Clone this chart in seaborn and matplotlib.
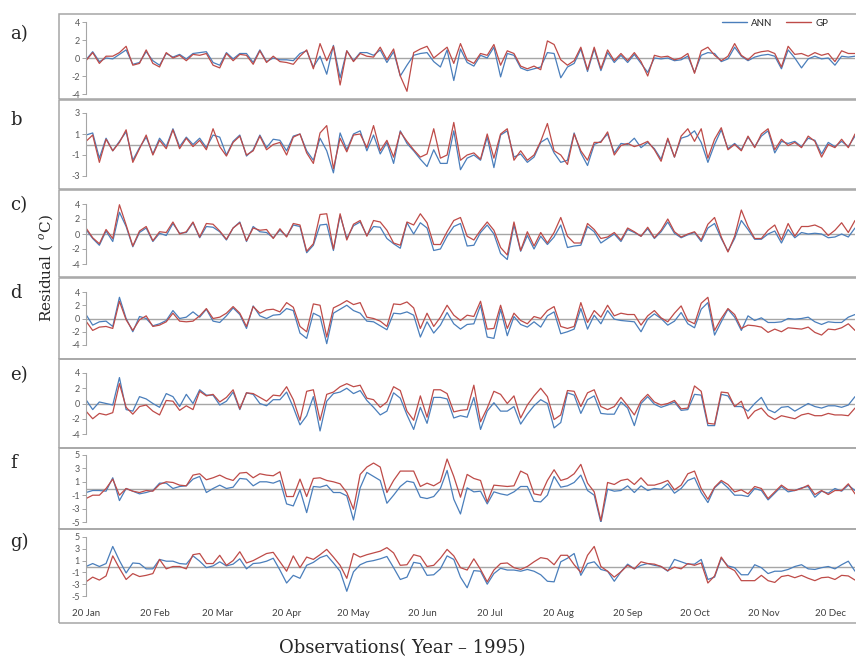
import matplotlib
matplotlib.use("Agg")
import numpy as np
import pandas as pd
import seaborn as sns
import matplotlib.pyplot as plt
from matplotlib.patches import Rectangle
from matplotlib.lines import Line2D

# ---------------- data (3-day samples, 20 Jan .. 31 Dec 1995) ----------------
a_ann = [-0.2,0.7,-0.4,0.0,-0.1,0.4,0.9,-0.7,-0.5,0.7,
         -0.3,-0.8,0.5,0.1,0.4,-0.1,0.5,0.6,0.7,-0.5,
         -0.8,0.6,-0.1,0.5,0.5,-0.5,0.9,-0.4,0.0,-0.2,
         -0.2,-0.3,0.5,0.8,-1.0,0.2,-1.8,1.4,-2.2,0.8,
         -0.3,0.6,0.6,0.3,0.9,-0.5,0.7,-2.0,-0.8,0.3,
         0.5,0.6,-0.4,-1.0,
         0.9,-2.5,1.0,-0.5,-0.9,0.3,0.0,1.2,-2.1,0.5,
         0.3,-1.1,-1.4,-1.2,-1.0,0.6,0.5,-2.2,-1.0,-0.6,
         1.0,-1.5,1.0,-1.4,0.6,-0.5,0.3,-0.5,0.4,-0.6,
         -1.6,0.0,-0.1,0.0,-0.3,-0.2,0.2,-1.6,0.3,0.6,
         0.5,-0.4,-0.1,1.2,0.2,-0.3,0.1,0.3,0.4,0.2,
         -1.2,0.9,0.0,-1.1,-0.1,0.2,-0.1,0.0,-0.8,0.2,
         0.1,0.2]
a_gp = [-0.3,0.6,-0.6,0.2,0.2,0.6,1.3,-0.8,-0.6,0.9,
        -0.6,-1.0,0.6,0.0,0.3,-0.3,0.4,0.3,0.5,-0.8,
        -1.1,0.5,-0.3,0.4,0.3,-0.7,0.8,-0.5,0.2,-0.4,
        -0.5,-0.7,0.2,0.9,-1.2,1.6,-0.3,1.3,-3.0,0.8,
        -0.4,0.5,0.2,0.1,1.2,-0.2,1.0,-2.0,-3.7,0.6,
        1.0,1.3,0.0,0.6,
        1.2,-0.6,1.6,-0.2,-0.6,0.5,0.3,1.5,-0.8,0.8,
        0.5,-0.9,-1.2,-0.9,-1.3,1.9,1.5,-0.2,-0.8,-0.3,
        1.2,-1.3,1.2,-1.2,0.9,-0.3,0.5,-0.3,0.6,-0.4,
        -2.0,0.3,0.1,0.2,-0.2,0.0,0.5,-1.7,0.8,1.2,
        0.3,-0.3,0.2,1.6,0.3,-0.2,0.5,0.7,0.8,0.5,
        -1.0,1.3,0.4,0.5,0.2,0.6,0.3,0.5,-0.4,0.8,
        0.5,0.5]

b_ann = [0.9,1.1,-1.3,0.6,-0.6,0.3,1.2,-1.5,-0.3,0.7,
         -0.9,0.6,-0.2,1.5,-0.2,0.7,0.0,0.6,-0.3,0.9,
         0.7,-1.0,0.3,0.9,-1.1,-0.5,0.9,-0.3,0.5,0.4,
         -0.6,0.8,1.0,-0.6,-1.5,0.6,-0.6,-2.7,1.1,-0.5,
         1.0,1.3,-0.6,0.9,-0.9,0.2,-1.8,1.3,0.1,-0.6,
         -1.4,-2.1,-0.5,-1.8,
         -1.8,1.3,-2.4,-1.3,-1.0,-1.5,0.7,-2.2,0.9,1.3,
         -1.2,-0.9,-1.7,-1.2,0.2,0.6,-0.8,-1.7,-1.5,1.1,
         -0.8,-2.0,0.0,0.3,1.0,-0.8,0.1,0.0,0.6,-0.3,
         0.2,-0.4,-1.4,0.5,-1.2,0.6,0.8,1.3,0.2,-1.7,
         0.0,1.4,-0.4,0.1,-0.5,0.7,-0.2,0.8,1.3,-0.8,
         0.3,0.1,0.3,-0.2,0.6,0.4,-0.9,0.2,-0.2,0.3,
         -0.2,0.8]
b_gp = [0.3,0.9,-1.7,0.5,-0.6,0.2,1.4,-1.7,-0.4,0.9,
        -1.0,0.4,-0.4,1.4,-0.4,0.6,-0.2,0.4,-0.5,1.5,
        -0.2,-1.1,0.2,0.8,-1.0,-0.6,0.8,-0.5,0.0,0.2,
        -1.0,0.7,1.0,-0.8,-1.8,1.1,1.8,-2.3,0.6,-0.7,
        0.9,1.0,-0.3,1.8,-0.6,0.4,-1.2,1.2,0.3,-0.5,
        -1.2,-0.9,1.5,-1.3,
        -1.0,2.1,-1.5,-1.0,-0.8,-1.4,1.0,-1.3,1.0,1.5,
        -1.5,-0.6,-1.5,-1.0,0.3,2.0,-0.6,-1.0,-1.9,1.0,
        -0.6,-1.5,0.2,0.2,1.2,-1.0,-0.1,0.1,-0.2,0.0,
        0.3,-0.5,-1.6,0.6,-1.2,0.8,1.5,0.3,1.5,-1.3,
        0.5,1.6,-0.5,0.0,-0.6,0.8,-0.3,1.0,1.5,-0.5,
        0.5,-0.1,0.2,-0.3,0.8,0.3,-1.2,0.0,-0.3,0.5,
        -0.3,1.0]

c_ann = [0.6,-0.6,-1.5,0.4,-1.0,2.9,1.0,-1.7,0.2,0.8,
         -1.0,0.1,-0.2,1.4,0.1,0.2,1.5,-0.5,1.0,0.9,
         0.3,-0.8,0.8,1.6,-1.0,1.0,0.3,0.2,-0.5,0.5,
         -0.3,1.2,1.0,-2.5,-1.5,1.2,1.3,-2.2,2.5,-0.6,
         1.1,1.6,-0.2,1.0,0.9,-0.6,-1.3,-1.9,1.5,0.0,
         1.5,0.8,-2.2,-2.0,
         -0.3,1.0,1.4,-1.6,-1.5,0.2,1.2,0.0,-2.6,-3.4,
         1.2,-2.3,-0.2,-2.0,-0.3,-1.4,-0.4,1.2,-1.8,-1.6,
         -1.5,1.0,0.3,-1.2,-0.6,0.0,-1.0,0.6,0.2,-0.3,
         0.7,-0.6,0.3,1.6,0.1,-0.5,-0.1,0.2,-1.0,0.8,
         1.4,-0.6,-2.3,-0.6,1.8,0.6,-0.7,-0.7,0.0,0.4,
         -1.2,0.6,-0.5,0.2,0.0,0.1,0.0,-0.5,-0.4,0.0,
         -0.4,0.8]
c_gp = [0.8,-0.5,-1.3,0.6,-0.6,3.9,1.2,-1.6,0.4,1.0,
        -0.9,0.3,0.2,1.6,0.0,0.3,1.6,-0.4,1.4,1.3,
        0.4,-0.7,0.8,1.5,-0.9,0.8,0.5,0.6,-0.6,0.7,
        -0.4,1.4,1.2,-2.3,-1.3,2.6,2.7,-2.0,2.7,-0.8,
        1.3,1.8,-0.3,1.8,1.6,0.5,-1.2,-1.5,1.6,1.2,
        2.7,1.5,-1.4,-1.4,
        0.3,1.8,2.2,-0.3,-0.8,0.5,1.6,0.5,-1.8,-2.8,
        1.6,-2.2,0.3,-1.6,0.2,-1.2,0.2,2.2,-0.3,-1.2,
        -1.2,1.4,0.6,-0.6,-0.4,0.2,-0.8,0.8,0.3,-0.3,
        0.9,-0.5,0.5,2.0,0.3,-0.4,0.0,0.3,-0.8,1.3,
        2.2,-0.4,-2.4,-0.3,3.2,1.0,-0.6,-0.6,0.5,1.2,
        -0.8,1.4,-0.3,1.0,1.0,1.2,0.8,-0.2,0.5,1.5,
        0.2,1.8]

d_ann = [0.6,-1.0,-0.5,-0.4,-1.2,3.2,0.0,-2.0,0.3,0.0,
         -1.1,-0.8,-0.3,1.2,0.0,0.2,1.0,0.2,1.4,-0.4,
         -0.6,0.4,1.6,0.6,-1.5,1.9,0.4,0.0,0.5,0.6,
         1.5,1.2,-2.2,-3.0,0.8,0.3,-3.8,0.8,1.4,2.0,
         1.2,0.8,-0.4,-0.5,-1.1,-1.7,0.8,0.7,1.0,0.5,
         -2.8,-0.5,-2.2,-1.0,
         0.9,-0.8,-1.6,-0.9,-0.8,2.0,-2.8,-3.0,1.4,-2.6,
         0.3,-0.9,-1.3,-0.5,-1.3,0.4,1.0,-2.3,-2.0,-1.6,
         1.5,-1.6,0.5,-0.8,1.2,-0.1,-0.3,-0.4,-0.5,-2.0,
         -0.1,0.7,0.0,-1.0,-0.4,0.9,-0.8,-1.4,1.4,2.4,
         -2.5,-0.5,1.4,0.2,-1.8,0.4,-0.3,0.1,-0.6,-0.6,
         -0.5,0.0,-0.1,0.0,0.2,-0.5,-0.9,-0.5,-0.6,-0.6,
         0.2,0.6]
d_gp = [-0.4,-1.8,-1.3,-1.2,-1.5,2.6,-0.2,-1.8,-0.2,0.4,
        -1.2,-1.0,-0.5,0.8,-0.4,-0.5,-0.4,0.4,1.5,0.0,
        0.2,0.8,1.8,0.8,-1.2,1.8,0.8,1.3,1.4,1.0,
        2.4,1.7,-1.2,-2.0,2.2,2.0,-2.8,1.6,2.1,2.7,
        2.1,2.4,0.2,0.0,-0.4,-1.2,2.2,2.1,2.5,1.6,
        -1.5,0.8,-1.2,0.2,
        2.0,0.5,-0.3,0.5,0.3,2.6,-1.6,-1.5,2.0,-1.5,
        0.8,-0.3,-0.8,0.3,0.0,1.2,1.8,-1.2,-1.5,-1.2,
        2.4,-0.6,1.2,0.2,2.0,0.4,0.8,0.6,0.6,-1.0,
        0.4,1.2,0.1,-0.5,0.8,1.9,-0.3,-0.8,2.3,3.2,
        -1.8,0.0,1.5,0.6,-1.5,-1.0,-1.1,-1.3,-2.1,-1.6,
        -2.0,-1.4,-1.5,-1.6,-1.3,-2.1,-2.5,-1.6,-1.7,-1.4,
        -0.8,-1.8]

e_ann = [0.5,-0.8,0.2,0.0,-0.2,3.4,-0.8,-1.0,0.9,0.6,
         0.0,-0.5,1.3,0.9,-0.4,1.2,0.0,1.8,1.1,1.1,
         -0.2,0.3,1.5,-0.8,1.4,1.2,0.0,-0.3,0.5,0.5,
         1.5,-0.5,-2.8,-1.6,0.9,-3.6,0.3,1.3,1.5,2.0,
         1.3,1.7,0.4,-0.5,-1.5,-1.0,1.4,0.7,-1.5,-3.4,
         -0.5,-2.6,0.8,0.8,
         0.6,-1.9,-1.6,-1.8,0.8,-3.4,-1.0,0.1,-1.0,-1.0,
         -0.4,-2.7,-1.4,-0.3,0.5,0.0,-3.2,-2.5,1.4,1.1,
         -1.3,0.5,1.0,-1.3,-1.4,-1.4,0.2,-0.6,-2.9,0.0,
         0.9,-0.1,-0.5,-0.2,0.2,-0.9,-0.8,1.2,1.1,-2.9,
         -2.9,1.2,1.0,-0.4,-0.4,-1.0,0.0,0.8,-0.8,-1.2,
         -0.5,-0.4,-1.0,-0.5,0.0,-0.4,-0.6,-0.3,-0.3,-0.5,
         -0.2,0.9]
e_gp = [-1.0,-2.0,-1.3,-1.5,-1.2,2.6,-0.5,-1.4,-0.4,-0.2,
        -1.0,-1.5,0.4,0.3,-0.9,-0.3,-0.8,1.6,1.0,1.2,
        0.2,0.8,1.8,-0.7,1.4,1.3,0.8,0.3,1.1,1.0,
        2.2,0.5,-2.2,1.6,1.8,-2.2,1.2,1.5,2.2,2.6,
        2.2,2.4,0.7,0.5,-0.5,0.2,2.2,1.7,-1.0,-2.2,
        1.0,-1.8,1.8,1.8,
        1.3,-1.1,-0.9,-0.8,2.4,-2.4,-0.6,1.6,1.2,0.0,
        1.0,-1.9,-0.2,1.0,2.0,0.9,-2.1,-1.5,1.7,1.6,
        -0.4,1.4,1.8,-0.4,-0.8,-0.4,0.8,-0.3,-1.5,0.3,
        1.2,0.2,-0.2,0.0,0.4,-0.7,-0.6,2.3,1.6,-2.6,
        -2.7,1.5,1.4,-0.4,0.3,-2.0,-1.0,-0.6,-1.6,-2.1,
        -1.6,-1.8,-2.0,-1.5,-1.3,-1.6,-1.6,-1.3,-1.5,-1.5,
        -1.6,-0.6]

f_ann = [-0.6,-0.3,-0.3,-0.4,1.6,-1.8,0.0,-0.4,-0.8,-0.6,
         -0.3,0.8,0.8,0.0,0.3,0.4,1.4,1.8,-0.6,0.0,
         0.5,0.0,0.2,1.5,1.4,0.4,1.0,1.0,0.8,1.2,
         -2.3,-2.6,-0.2,-3.6,0.3,0.2,0.5,-0.6,-0.6,-1.1,
         -4.7,0.1,2.4,1.8,1.2,-2.2,-1.0,0.3,1.1,0.9,
         -1.3,-1.5,-1.2,0.0,
         2.7,-1.6,-3.8,0.1,-0.5,-0.4,-2.3,-0.5,-0.8,-1.0,
         -0.5,0.3,0.3,-1.9,-2.0,-1.0,1.8,0.2,0.4,0.9,
         2.0,-0.3,-1.0,-5.1,-0.1,-0.4,-0.3,0.4,-0.6,0.4,
         -0.3,0.0,-0.1,0.7,-0.7,0.0,1.2,1.6,-0.6,-2.1,
         0.1,1.0,0.1,-1.0,-1.0,-1.2,0.0,-0.3,-1.7,-0.7,
         0.3,-0.5,-0.3,0.1,0.3,-1.3,-0.4,-0.7,0.0,-0.4,
         0.5,-0.3]
f_gp = [-1.5,-1.0,-1.0,0.0,1.4,-1.0,0.0,-0.4,-0.6,-0.3,
        -0.4,0.6,1.0,0.9,0.5,0.4,2.0,2.2,1.3,1.6,
        2.0,1.5,1.2,2.3,2.4,1.6,2.2,2.0,1.9,2.5,
        -1.2,-1.2,1.4,-1.2,1.5,1.6,1.2,1.0,0.7,-0.6,
        -3.1,2.1,3.2,3.8,3.2,-0.6,1.2,2.6,2.6,2.6,
        0.3,0.8,0.4,1.0,
        4.4,1.8,-1.3,2.1,1.5,1.2,-2.0,0.5,0.4,0.3,
        0.4,2.6,2.1,-0.8,-1.0,1.2,2.8,1.2,1.5,2.2,
        3.6,0.8,-0.5,-4.8,0.9,0.6,1.2,1.4,0.6,1.6,
        0.5,0.5,0.8,1.2,-0.2,0.5,2.2,2.6,0.0,-1.6,
        0.2,1.2,0.6,-0.5,-0.2,-0.8,0.3,0.0,-1.5,-0.5,
        0.5,-0.2,-0.3,0.0,0.5,-0.9,-0.3,-0.9,-0.3,-0.3,
        0.7,-0.8]

g_ann = [0.0,0.5,0.0,0.5,3.4,1.0,-1.1,0.6,0.5,-0.4,
         -0.4,1.2,0.9,0.9,0.5,0.4,1.8,0.9,-0.2,0.1,
         0.8,0.1,0.4,1.3,-0.4,0.5,0.6,0.9,1.4,-0.6,
         -2.8,-1.5,-2.0,0.2,0.7,1.5,1.9,0.6,-0.8,-4.2,
         -0.9,0.3,0.8,1.0,1.3,1.7,-0.2,-2.2,-1.8,0.7,
         0.5,-1.5,-1.4,-0.4,
         1.8,1.2,-1.8,-3.6,-0.7,-0.8,-3.0,-1.2,-0.3,-0.6,
         -0.6,-0.8,-0.5,-0.8,-1.4,-2.5,-2.6,0.8,1.4,2.2,
         -1.5,0.5,0.8,-0.5,-0.8,-2.5,-0.9,0.4,-0.4,0.2,
         0.5,0.2,0.0,-0.8,1.2,0.8,0.4,0.4,1.2,-2.2,
         -1.8,1.4,0.1,-0.2,-1.4,-1.4,0.3,-0.2,-1.2,-0.8,
         -0.8,-0.5,0.0,0.3,-0.4,-0.5,-0.2,0.0,-0.4,0.3,
         0.9,-0.8]
g_gp = [-2.6,-1.8,-2.3,-1.6,1.8,-0.3,-2.2,-1.2,-1.7,-1.5,
        -1.2,1.2,-0.4,0.0,0.0,-0.4,2.0,2.2,0.5,0.5,
        1.9,0.2,1.0,2.5,0.6,1.0,1.6,2.2,2.4,0.8,
        -0.8,1.8,-0.2,1.6,1.2,2.0,2.9,1.6,0.2,-2.0,
        2.2,1.6,2.0,2.3,2.6,3.2,2.3,0.2,0.3,2.0,
        1.7,0.0,0.2,1.4,
        2.9,1.8,-0.2,-0.6,1.3,-0.5,-2.6,-0.6,0.5,0.6,
        -0.2,-0.5,0.0,0.8,1.5,1.3,0.3,1.9,1.9,0.3,
        -1.0,1.9,3.4,0.0,-0.8,-1.8,-0.9,0.2,-0.4,0.8,
        0.5,0.4,0.0,-0.7,-0.1,-0.4,0.5,0.2,0.6,-2.8,
        -1.6,1.6,-0.1,-0.7,-2.4,-2.4,-2.4,-1.5,-2.4,-2.7,
        -1.7,-1.5,-1.9,-1.5,-2.0,-2.4,-1.9,-1.8,-2.2,-1.5,
        -1.6,-2.3]

panel_labels = ["a)", "b", "c)", "d", "e)", "f", "g)"]
series_names = ["ANN", "GP"]
month_ticks = ["1995-01-20", "1995-02-20", "1995-03-20", "1995-04-20", "1995-05-20",
               "1995-06-20", "1995-07-20", "1995-08-20", "1995-09-20", "1995-10-20",
               "1995-11-20", "1995-12-20"]
month_labels = ["20 Jan", "20 Feb", "20 Mar", "20 Apr", "20 May", "20 Jun",
                "20 Jul", "20 Aug", "20 Sep", "20 Oct", "20 Nov", "20 Dec"]
ann_series = [a_ann, b_ann, c_ann, d_ann, e_ann, f_ann, g_ann]
gp_series = [a_gp, b_gp, c_gp, d_gp, e_gp, f_gp, g_gp]
yticks_list = [[-4, -2, 0, 2, 4], [-3, -1, 1, 3], [-4, -2, 0, 2, 4], [-4, -2, 0, 2, 4],
               [-4, -2, 0, 2, 4], [-5, -3, -1, 1, 3, 5], [-5, -3, -1, 1, 3, 5]]

# ---------------- layout (pixel geometry) ----------------
W, H = 856, 660
BLUE = "#4a7ebb"
RED = "#be4b48"
GRAY = "#a6a6a6"
TXT = "#595959"

box_rows = [(14, 99), (100, 189), (190, 277), (278, 359), (359, 448), (448, 529), (529, 623)]
ax_rows = [(22, 94), (113, 176), (204, 264), (292, 345), (373, 434), (455, 522), (537, 596)]
label_y = [34, 120, 205, 293, 375, 463, 542]

sns.set_style("white")
plt.rcParams["font.family"] = ["Lato", "DejaVu Sans"]
plt.rcParams["axes.unicode_minus"] = False
plt.rcParams["mathtext.fontset"] = "dejavuserif"

fig = plt.figure(figsize=(W / 100, H / 100), dpi=100)
fig.patch.set_facecolor("white")


def fx(x):
    return x / W


def fy(y):
    return 1 - y / H


start = pd.Timestamp("1995-01-20")
end = pd.Timestamp("1995-12-31")

for i in range(7):
    t, b = box_rows[i]
    fig.add_artist(Rectangle((fx(59), fy(b)), fx(900) - fx(59), fy(t) - fy(b),
                             transform=fig.transFigure, fill=False,
                             edgecolor=GRAY, linewidth=1.1))
    at, ab = ax_rows[i]
    ax = fig.add_axes([fx(86), fy(ab), fx(855) - fx(86), fy(at) - fy(ab)])
    ax.patch.set_alpha(0)
    ann = ann_series[i]
    gp = gp_series[i]
    df = pd.DataFrame({
        "date": list(pd.date_range(start, periods=len(ann), freq="3D")) +
                list(pd.date_range(start, periods=len(gp), freq="3D")),
        "value": ann + gp,
        "model": ["ANN"] * len(ann) + ["GP"] * len(gp),
    })
    ax.axhline(0, color=GRAY, linewidth=1.0, zorder=0)
    sns.lineplot(data=df, x="date", y="value", hue="model",
                 palette={"ANN": BLUE, "GP": RED}, linewidth=0.9,
                 ax=ax, legend=False)
    yt = yticks_list[i]
    ax.set_ylim(yt[0], yt[-1])
    ax.set_xlim(start, end)
    ax.set_yticks(yt)
    ax.set_yticklabels([str(v) for v in yt])
    ax.set_xlabel("")
    ax.set_ylabel("")
    for s in ["top", "right", "bottom"]:
        ax.spines[s].set_visible(False)
    ax.spines["left"].set_color(GRAY)
    ax.spines["left"].set_linewidth(0.8)
    ax.tick_params(axis="y", left=True, direction="out", length=3, width=0.7,
                   color=GRAY, labelsize=6.5, labelcolor=TXT, pad=1.5)
    if i == 6:
        ax.set_xticks([pd.Timestamp(d) for d in month_ticks])
        ax.set_xticklabels(month_labels)
        ax.tick_params(axis="x", bottom=False, length=0, labelsize=7,
                       labelcolor="#404040", pad=9)
    else:
        ax.set_xticks([])
    fig.text(fx(10), fy(label_y[i]), panel_labels[i], family="DejaVu Serif",
             fontsize=13, ha="left", va="center")

handles = [Line2D([], [], color=BLUE, lw=1.0), Line2D([], [], color=RED, lw=1.0)]
fig.legend(handles, series_names, loc="center", bbox_to_anchor=(fx(775), fy(23)),
           ncol=2, frameon=False, fontsize=7, handlelength=2.6,
           columnspacing=1.4, handletextpad=0.4, borderpad=0)

fig.text(fx(46), fy(268), "Residual ( $^{o}$C)", family="DejaVu Serif", fontsize=11,
         rotation=90, ha="center", va="center")
fig.text(fx(402), fy(648), "Observations( Year \u2013 1995)", family="DejaVu Serif",
         fontsize=13, ha="center", va="center")

fig.savefig("out.png", dpi=100)
